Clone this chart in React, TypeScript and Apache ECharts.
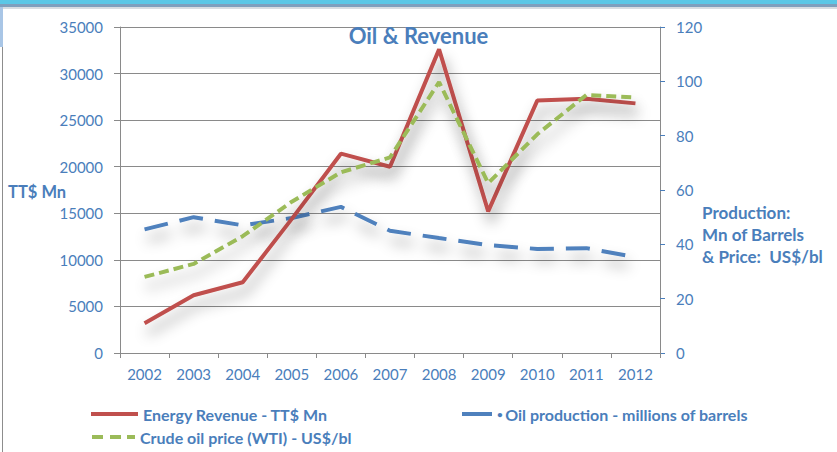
import React, { useEffect, useRef } from "react";
import * as echarts from "echarts";

const years = ["2002", "2003", "2004", "2005", "2006", "2007", "2008", "2009", "2010", "2011", "2012"];
const energyRevenue = [3200, 6200, 7600, 14400, 21400, 20000, 32600, 15200, 27100, 27300, 26800];
const oilProduction = [45.5, 50, 47, 49.7, 53.8, 45, 42.3, 39.7, 38.3, 38.6, 35.3];
const crudePrice = [28, 32.8, 43, 55.7, 66.5, 72, 99.7, 62.5, 80.5, 95, 94.1];

const leftTicks = { min: 0, max: 35000, interval: 5000 };
const rightTicks = { min: 0, max: 120, interval: 20 };

const NAME_REV = "Energy Revenue - TT$ Mn";
const NAME_OIL = "Oil production - millions of barrels";
const NAME_PRICE = "Crude oil price (WTI) - US$/bl";

const BLUE_TEXT = "#4a7ebb";
const FONT = "Lato, 'Open Sans', sans-serif";
const GRAY = "#8a8a8a";

const shadow = {
  shadowBlur: 14,
  shadowColor: "rgba(0,0,0,0.4)",
  shadowOffsetX: 3,
  shadowOffsetY: 10,
};

const legendText = { fontFamily: FONT, fontSize: 16, fontWeight: "bold", color: BLUE_TEXT };

export default function App() {
  const ref = useRef<HTMLDivElement>(null);
  useEffect(() => {
    if (!ref.current) return;
    const chart = echarts.init(ref.current, null, { renderer: "svg" });
    chart.setOption({
      animation: false,
      backgroundColor: "#ffffff",
      title: {
        text: "Oil & Revenue",
        left: "center",
        top: 19,
        textStyle: { fontFamily: FONT, fontSize: 22, fontWeight: "bold", color: BLUE_TEXT },
      },
      grid: { left: 120, right: 177, top: 27, bottom: 99, containLabel: false },
      legend: [
        {
          left: 91,
          top: 406,
          padding: 0,
          itemWidth: 47,
          itemHeight: 4,
          icon: "rect",
          data: [NAME_REV],
          textStyle: legendText,
        },
        {
          left: 92,
          top: 429,
          padding: 0,
          itemWidth: 43,
          itemHeight: 4,
          icon: "path://M0,0h11v4h-11z M18,0h11v4h-11z M35,0h8v4h-8z",
          data: [NAME_PRICE],
          textStyle: legendText,
        },
        {
          left: 462,
          top: 406,
          padding: 0,
          itemWidth: 30,
          itemHeight: 4,
          icon: "rect",
          data: [NAME_OIL],
          formatter: (n: string) => "{b|\u2022 }" + n,
          textStyle: {
            ...legendText,
            rich: { b: { fontFamily: FONT, fontSize: 10, fontWeight: "bold", color: BLUE_TEXT } },
          },
        },
      ],
      xAxis: {
        type: "category",
        data: years,
        boundaryGap: true,
        axisLine: { show: true, lineStyle: { color: GRAY, width: 1 } },
        axisTick: { show: true, length: 5, lineStyle: { color: GRAY } },
        axisLabel: { margin: 13, fontFamily: FONT, fontSize: 15, color: BLUE_TEXT },
        splitLine: { show: false },
      },
      yAxis: [
        {
          type: "value",
          position: "left",
          ...leftTicks,
          axisLine: { show: true, lineStyle: { color: GRAY, width: 1 } },
          axisTick: { show: true, length: 6, lineStyle: { color: GRAY } },
          axisLabel: {
            margin: 17,
            fontFamily: FONT,
            fontSize: 15,
            color: BLUE_TEXT,
            formatter: (v: number) => String(v),
          },
          splitLine: { show: true, lineStyle: { color: GRAY, width: 1 } },
        },
        {
          type: "value",
          position: "right",
          ...rightTicks,
          axisLine: { show: true, lineStyle: { color: GRAY, width: 1 } },
          axisTick: { show: true, length: 5, lineStyle: { color: BLUE_TEXT } },
          axisLabel: {
            margin: 16,
            fontFamily: FONT,
            fontSize: 15,
            color: BLUE_TEXT,
            formatter: (v: number) => String(v),
          },
          splitLine: { show: false },
        },
      ],
      graphic: [
        { type: "rect", left: 0, top: 0, shape: { width: 837, height: 4 }, style: { fill: "#5bc7e6" }, silent: true },
        { type: "rect", left: 0, top: 4, shape: { width: 837, height: 3 }, style: { fill: "#7f9fbd" }, silent: true },
        { type: "rect", left: 0, top: 7, shape: { width: 837, height: 2 }, style: { fill: "#d8dde2" }, silent: true },
        { type: "rect", left: 0, top: 7, shape: { width: 3, height: 40 }, style: { fill: "#a9c6e6" }, silent: true },
        { type: "rect", left: 2, top: 47, shape: { width: 1, height: 405 }, style: { fill: "#8d8d8d" }, silent: true },
        {
          type: "text",
          left: 8,
          top: 183,
          style: { text: "TT$ Mn", fontFamily: FONT, fontSize: 16.5, fontWeight: "bold", fill: BLUE_TEXT },
        },
        {
          type: "text",
          left: 702,
          top: 201,
          style: {
            text: "Production:\nMn of Barrels\n& Price:  US$/bl",
            fontFamily: FONT,
            fontSize: 17,
            lineHeight: 22,
            fontWeight: "bold",
            fill: BLUE_TEXT,
          },
        },
      ],
      series: [
        {
          name: NAME_REV,
          type: "line",
          yAxisIndex: 0,
          data: energyRevenue,
          symbol: "none",
          lineStyle: { color: "#c0504d", width: 4, ...shadow },
          itemStyle: { color: "#c0504d" },
          z: 3,
        },
        {
          name: NAME_OIL,
          type: "line",
          yAxisIndex: 1,
          data: oilProduction,
          symbol: "none",
          lineStyle: { color: "#4f81bd", width: 4, type: [24, 12], ...shadow },
          itemStyle: { color: "#4f81bd" },
          z: 2,
        },
        {
          name: NAME_PRICE,
          type: "line",
          yAxisIndex: 1,
          data: crudePrice,
          symbol: "none",
          lineStyle: { color: "#9bbb59", width: 4, type: [10, 5], ...shadow },
          itemStyle: { color: "#9bbb59" },
          z: 4,
        },
      ],
    });
    return () => chart.dispose();
  }, []);
  return <div ref={ref} style={{ position: "absolute", left: 0, top: 0, width: 837, height: 452 }} />;
}
